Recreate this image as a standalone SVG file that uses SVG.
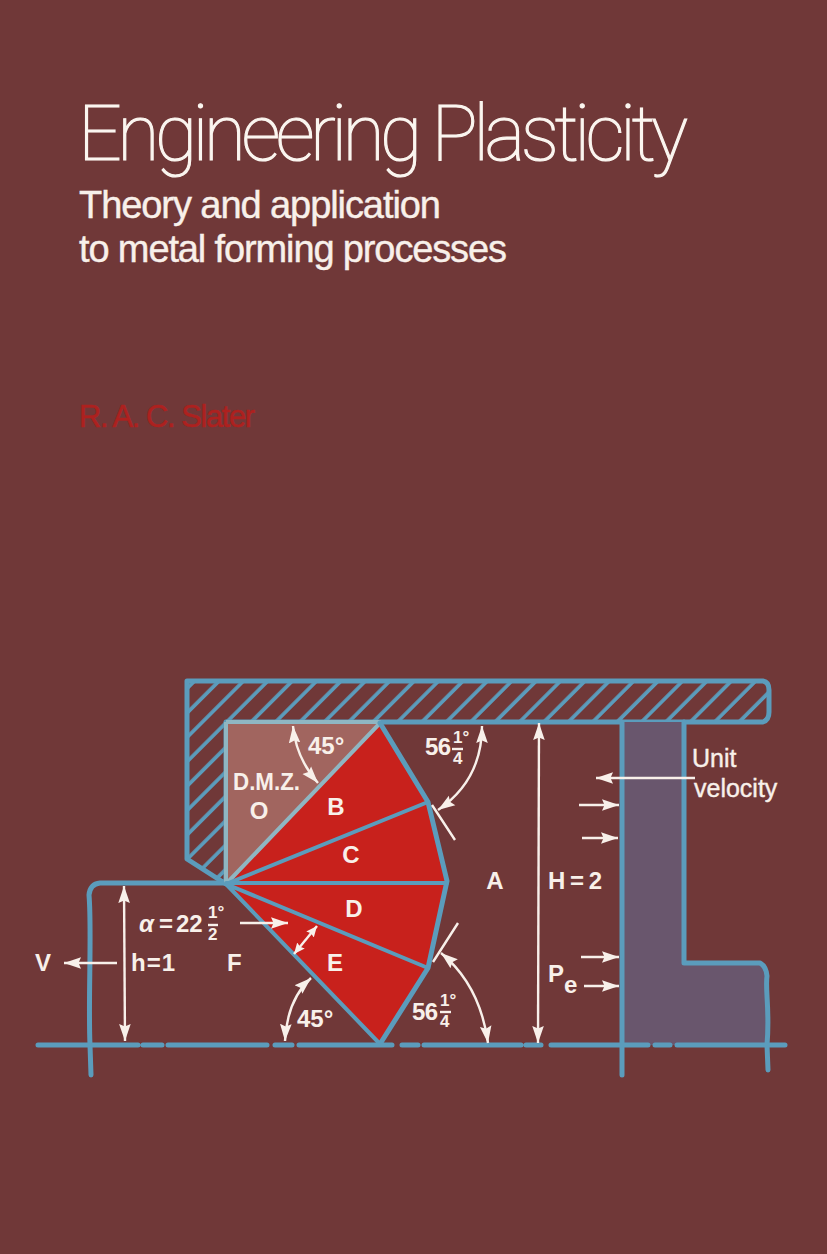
<svg xmlns="http://www.w3.org/2000/svg" width="827" height="1254" viewBox="0 0 827 1254">
<style>
.b{fill:none;stroke:#5b9cbc;stroke-width:5;stroke-linecap:round;stroke-linejoin:round}
.t{fill:none;stroke:#5b9cbc;stroke-width:4;stroke-linecap:round;stroke-linejoin:round}
.w{fill:none;stroke:#f8f0ea;stroke-width:2.4;stroke-linecap:butt}
.l{font-family:"Liberation Sans",Arial,sans-serif;font-weight:700;font-size:24px;fill:#f8f0ea}
.m{font-family:"Liberation Sans",Arial,sans-serif;font-size:25px;fill:#f8f0ea;stroke:#f8f0ea;stroke-width:.4}
.f{font-family:"Liberation Sans",Arial,sans-serif;font-weight:700;font-size:17px;fill:#f8f0ea}
.s{font-family:"Liberation Sans",Arial,sans-serif;font-size:38px;fill:#f8f0ea;stroke:#f8f0ea;stroke-width:.4}
</style>
<defs>
<pattern id="hatch" patternUnits="userSpaceOnUse" width="17.25" height="17.25" patternTransform="rotate(45)">
<rect x="13.6" y="0" width="3.65" height="17.25" fill="#5b9cbc"/>
</pattern>
<marker id="ah" markerUnits="userSpaceOnUse" markerWidth="20" markerHeight="14" refX="17" refY="7" orient="auto-start-reverse">
<path d="M0,1.2 L17,7 L0,12.8 L2.5,7 z" fill="#f8f0ea"/>
</marker>
<marker id="as" markerUnits="userSpaceOnUse" markerWidth="13" markerHeight="11" refX="11" refY="5.5" orient="auto-start-reverse">
<path d="M0,0.6 L11,5.5 L0,10.4 L1.5,5.5 z" fill="#f8f0ea"/>
</marker>
</defs>
<rect id="background" width="827" height="1254" fill="#703838"/>
<g id="title">
<text x="78" y="160" font-family="Roboto,sans-serif" font-weight="100" font-size="77" fill="#fbf6f0" stroke="#fbf6f0" stroke-width="1.1" textLength="610" lengthAdjust="spacing">Engineering Plasticity</text>
<text class="s" x="79" y="218" textLength="362" lengthAdjust="spacing">Theory and application</text>
<text class="s" x="79" y="262" textLength="428" lengthAdjust="spacing">to metal forming processes</text>
<text x="79" y="427" font-family="Liberation Sans,Arial,sans-serif" font-size="31" fill="#ad211f" stroke="#ad211f" stroke-width=".5" textLength="176" lengthAdjust="spacing">R. A. C. Slater</text>
</g>
<g id="die">
<path d="M187,681 H763 Q769,682 769,690 V712 Q769,720 763,722 H226 V884 L187,859 Z" fill="url(#hatch)"/>
<path class="b" d="M187,681 H763 Q769,682 769,690 V712 Q769,720 763,722 H226 V884 L187,859 Z"/>
</g>
<g id="workpiece">
<path d="M622,722 H684 V963 H760 L766,972 V1045 H622 Z" fill="#69566d"/>
<path class="b" d="M684,722 V963 H760 Q766,966 767,976 C765,990 770,1010 767,1045 L768,1070"/>
<path class="b" d="M622,722 V1075"/>
<path class="b" d="M226,883 H100 Q90,884 89,895 C92,930 88,1000 90,1045 L91,1075"/>
</g>
<g id="fan">
<path id="zone-O" d="M226,722 H381 L226,884 Z" fill="#a1655f"/>
<path id="zone-B" d="M380,723 L428,802 L226,884 Z" fill="#c8211c"/>
<path id="zone-C" d="M428,802 L447,881 L226,884 Z" fill="#c8211c"/>
<path id="zone-D" d="M447,881 L428,968 L226,884 Z" fill="#c8211c"/>
<path id="zone-E" d="M428,968 L380,1044 L226,884 Z" fill="#c8211c"/>
<path fill="none" stroke="#8fb6c2" stroke-width="4" d="M226,884 L381,722 M226,722 V884 M226,722 H381"/>
<path class="t" d="M226,884 L428,802 M226,883 H447 M226,884 L428,968 M226,884 L380,1044"/>
<path class="b" d="M380,723 L428,802 L447,881 L428,968 L380,1044"/>
</g>
<g id="baseline">
<path class="b" d="M38,1045 H138 M143,1045 H162 M168,1045 H267 M275,1045 H292 M299,1045 H392 M402,1045 H418 M424,1045 H521 M526,1045 H541 M551,1045 H648 M655,1045 H670 M677,1045 H785"/>
</g>
<g id="connectors">
<path class="w" marker-start="url(#ah)" marker-end="url(#ah)" d="M293,726 Q296,758 318,783"/>
<path class="w" marker-start="url(#ah)" marker-end="url(#ah)" d="M482,726 Q482,780 438,810"/>
<path class="w" d="M432,805 L455,840 M433,962 L458,923"/>
<path class="w" marker-start="url(#ah)" marker-end="url(#ah)" d="M539,723 L538,1043"/>
<path class="w" marker-start="url(#ah)" marker-end="url(#ah)" d="M124,886 L125,1041"/>
<path class="w" marker-end="url(#ah)" d="M117,963 H64"/>
<path class="w" marker-end="url(#ah)" d="M240,923 H288"/>
<path class="w" marker-start="url(#as)" marker-end="url(#as)" d="M317,926 L294,954"/>
<path class="w" marker-start="url(#ah)" marker-end="url(#ah)" d="M311,978 Q287,1000 285,1041"/>
<path class="w" marker-start="url(#ah)" marker-end="url(#ah)" d="M441,953 Q480,985 488,1043"/>
<path class="w" marker-end="url(#ah)" d="M581,957 H619"/>
<path class="w" marker-end="url(#ah)" d="M584,986 H619"/>
<path class="w" marker-end="url(#ah)" d="M579,805 H619"/>
<path class="w" marker-end="url(#ah)" d="M582,838 H618"/>
<path class="w" stroke-width="2.8" marker-end="url(#ah)" d="M695,778 H596"/>
</g>
<g id="labels">
<text class="l" x="308" y="754">45°</text>
<text class="l" x="233" y="790" textLength="67" lengthAdjust="spacingAndGlyphs">D.M.Z.</text>
<text class="l" x="259" y="819" text-anchor="middle">O</text>
<text class="l" x="336" y="815" text-anchor="middle">B</text>
<text class="l" x="351" y="863" text-anchor="middle">C</text>
<text class="l" x="354" y="917" text-anchor="middle">D</text>
<text class="l" x="335" y="971" text-anchor="middle">E</text>
<text class="l" x="495" y="889" text-anchor="middle">A</text>
<text class="l" x="548" y="889" textLength="54">H = 2</text>
<text class="l" x="227" y="971">F</text>
<text class="l" x="35" y="971">V</text>
<text class="l" x="131" y="971" textLength="44">h=1</text>
<text class="l" x="297" y="1027">45°</text>
<text class="l" x="548" y="982">P<tspan dy="11">e</tspan></text>
<text class="m" x="692" y="767">Unit</text>
<text class="m" x="694" y="797">velocity</text>
<text class="l" x="425" y="755" textLength="26">56</text>
<text class="f" x="453" y="743">1°</text>
<path class="w" d="M452,749 H463"/>
<text class="f" x="453" y="764">4</text>
<text class="l" x="412" y="1020" textLength="26">56</text>
<text class="f" x="440" y="1006">1°</text>
<path class="w" d="M440,1012 H451"/>
<text class="f" x="440" y="1027">4</text>
<text class="l" x="139" y="932" font-style="italic">α</text>
<text class="l" x="159" y="932">=</text>
<text class="l" x="176" y="932">22</text>
<text class="f" x="208" y="918">1°</text>
<path class="w" d="M208,925 H218"/>
<text class="f" x="208" y="940">2</text>
</g>
</svg>
